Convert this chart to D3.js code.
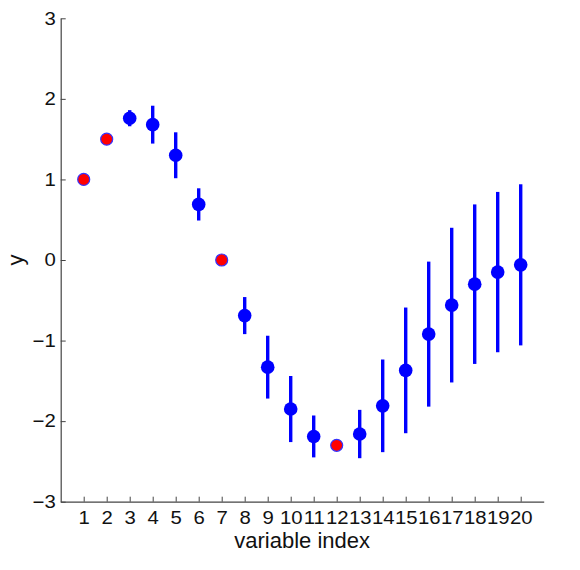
<!DOCTYPE html>
<html>
<head>
<meta charset="utf-8">
<script src="https://cdn.jsdelivr.net/npm/d3@7"></script>
<style>
  html, body { margin: 0; padding: 0; background: #fff; }
  svg { display: block; font-family: "Liberation Sans", Arial, Helvetica, sans-serif; }
</style>
</head>
<body>
<svg id="chart" width="580" height="570"></svg>
<script>
// Data
const indices = [1,2,3,4,5,6,7,8,9,10,11,12,13,14,15,16,17,18,19,20];
const means   = [1.00, 1.50, 1.76, 1.68, 1.30, 0.69, 0.00, -0.69, -1.33, -1.85,
                 -2.19, -2.30, -2.16, -1.81, -1.37, -0.92, -0.56, -0.30, -0.15, -0.06];
const errs    = [0, 0, 0.10, 0.235, 0.285, 0.20, 0, 0.23, 0.39, 0.41,
                 0.26, 0, 0.30, 0.575, 0.78, 0.90, 0.96, 0.99, 0.995, 1.00];
const observed = [true, true, false, false, false, false, true, false, false, false,
                  false, true, false, false, false, false, false, false, false, false];
const yTicks = [-3, -2, -1, 0, 1, 2, 3];

const data = indices.map((d, i) => ({ x: d, y: means[i], e: errs[i], obs: observed[i] }));

const svg = d3.select("#chart");
const x = d3.scaleLinear().domain([0, 21]).range([60.7, 543.7]);
const y = d3.scaleLinear().domain([-3, 3]).range([501.7, 18.3]);

const axisColor = "#444";
const stretch = 1.13;

// Y axis
const yAxis = svg.append("g")
  .attr("transform", `translate(${x(0)},0)`)
  .call(d3.axisLeft(y).tickValues(yTicks).tickSizeInner(-5).tickSizeOuter(0).tickPadding(6)
    .tickFormat(d => d < 0 ? "\u2212" + Math.abs(d) : String(d)));
yAxis.select(".domain").attr("stroke", axisColor).attr("stroke-width", 1.2);
yAxis.selectAll(".tick line").attr("stroke", axisColor);
yAxis.selectAll(".tick text").attr("font-size", 18).attr("fill", "#111")
  .attr("font-family", "Liberation Sans, Arial, sans-serif")
  .attr("x", -5 / stretch).attr("transform", `scale(${stretch},1)`);

// X axis
const xAxis = svg.append("g")
  .attr("transform", `translate(0,${y(-3)})`)
  .call(d3.axisBottom(x).tickValues(indices).tickSizeInner(-5).tickSizeOuter(0).tickPadding(10)
    .tickFormat(d3.format("d")));
xAxis.select(".domain").attr("stroke", axisColor).attr("stroke-width", 1.2);
xAxis.selectAll(".tick line").attr("stroke", axisColor);
xAxis.selectAll(".tick text").attr("font-size", 18).attr("fill", "#111")
  .attr("font-family", "Liberation Sans, Arial, sans-serif")
  .attr("dy", null).attr("y", 22.5).attr("transform", `scale(${stretch},1)`);

// Axis labels
svg.append("text")
  .attr("x", x(10.5)).attr("y", 548)
  .attr("text-anchor", "middle").attr("font-size", 22).attr("fill", "#111")
  .text("variable index");
svg.append("text")
  .attr("transform", `translate(23,${y(0)}) rotate(-90)`)
  .attr("text-anchor", "middle").attr("font-size", 22).attr("fill", "#111")
  .text("y");

// Error bars
svg.append("g").selectAll("line")
  .data(data.filter(d => !d.obs))
  .join("line")
  .attr("x1", d => x(d.x)).attr("x2", d => x(d.x))
  .attr("y1", d => y(d.y + d.e)).attr("y2", d => y(d.y - d.e))
  .attr("stroke", "#0000ff").attr("stroke-width", 3.4);

// Points
svg.append("g").selectAll("circle")
  .data(data)
  .join("circle")
  .attr("cx", d => x(d.x)).attr("cy", d => y(d.y))
  .attr("r", d => d.obs ? 6.0 : 6.8)
  .attr("fill", d => d.obs ? "#ff0000" : "#0000ff")
  .attr("stroke", d => d.obs ? "#3333ff" : "none")
  .attr("stroke-width", 1.2);
</script>
</body>
</html>
